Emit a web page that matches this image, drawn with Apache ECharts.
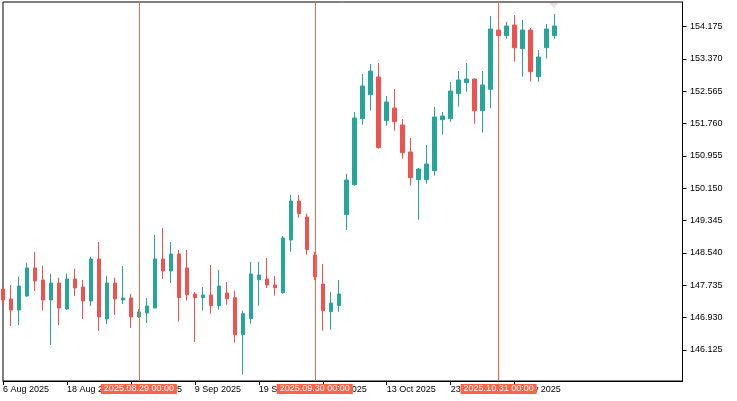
<!doctype html>
<html lang="en">

<head>
	<meta charset="UTF-8">
	<title>USDJPY Daily</title>
	<script src="https://cdnjs.cloudflare.com/ajax/libs/echarts/6.0.0/echarts.min.js"></script>
	<style>
		html, body { margin: 0; padding: 0; background: #fff; }
		#main { width: 737px; height: 401px; }
	</style>
</head>

<body>
	<div id="main"></div>
	<script type="text/javascript">
		// trading days, 6 Aug 2025 onwards (last 16 are empty slots of the chart shift)
		var dates = [
			'6 Aug 2025', '7 Aug 2025', '8 Aug 2025', '11 Aug 2025', '12 Aug 2025', '13 Aug 2025', '14 Aug 2025', '15 Aug 2025',
			'18 Aug 2025', '19 Aug 2025', '20 Aug 2025', '21 Aug 2025', '22 Aug 2025', '25 Aug 2025', '26 Aug 2025', '27 Aug 2025',
			'28 Aug 2025', '29 Aug 2025', '1 Sep 2025', '2 Sep 2025', '3 Sep 2025', '4 Sep 2025', '5 Sep 2025', '8 Sep 2025',
			'9 Sep 2025', '10 Sep 2025', '11 Sep 2025', '12 Sep 2025', '15 Sep 2025', '16 Sep 2025', '17 Sep 2025', '18 Sep 2025',
			'19 Sep 2025', '22 Sep 2025', '23 Sep 2025', '24 Sep 2025', '25 Sep 2025', '26 Sep 2025', '29 Sep 2025', '30 Sep 2025',
			'1 Oct 2025', '2 Oct 2025', '3 Oct 2025', '6 Oct 2025', '7 Oct 2025', '8 Oct 2025', '9 Oct 2025', '10 Oct 2025',
			'13 Oct 2025', '14 Oct 2025', '15 Oct 2025', '16 Oct 2025', '17 Oct 2025', '20 Oct 2025', '21 Oct 2025', '22 Oct 2025',
			'23 Oct 2025', '24 Oct 2025', '27 Oct 2025', '28 Oct 2025', '29 Oct 2025', '30 Oct 2025', '31 Oct 2025', '3 Nov 2025',
			'4 Nov 2025', '5 Nov 2025', '6 Nov 2025', '7 Nov 2025', '10 Nov 2025', '11 Nov 2025',
			'12 Nov 2025', '13 Nov 2025', '14 Nov 2025', '17 Nov 2025', '18 Nov 2025', '19 Nov 2025', '20 Nov 2025', '21 Nov 2025',
			'24 Nov 2025', '25 Nov 2025', '26 Nov 2025', '27 Nov 2025', '28 Nov 2025', '1 Dec 2025', '2 Dec 2025', '3 Dec 2025'
		];
		var barCount = 70;

		var opens = [
			147.644, 147.395, 147.121, 147.470, 148.167, 147.868, 147.370, 147.793, 147.146, 147.893,
			147.694, 147.345, 148.391, 146.897, 147.793, 147.370, 147.420, 146.947, 147.046, 147.171,
			148.391, 148.092, 148.515, 148.167, 147.520, 147.427, 147.494, 147.228, 147.544, 147.427,
			146.506, 146.905, 147.875, 147.893, 147.743, 147.552, 148.864, 149.835, 149.437, 148.490,
			147.768, 147.079, 147.228, 149.494, 150.241, 151.884, 152.481, 152.922, 151.834, 152.150,
			151.727, 151.055, 150.365, 150.365, 150.589, 151.859, 151.884, 152.506, 152.780, 152.872,
			152.083, 152.616, 154.092, 153.950, 154.217, 153.627, 154.092, 152.929, 153.651, 153.950
		];
		var closes = [
			147.370, 147.121, 147.718, 148.167, 147.843, 147.370, 147.793, 147.171, 147.893, 147.669,
			147.345, 148.391, 146.947, 147.793, 147.395, 147.420, 146.947, 147.071, 147.221, 148.391,
			148.092, 148.515, 147.427, 147.502, 147.427, 147.494, 147.228, 147.718, 147.402, 146.506,
			147.029, 148.017, 147.992, 147.743, 147.676, 148.913, 149.835, 149.519, 148.622, 147.942,
			147.104, 147.295, 147.520, 150.358, 151.901, 152.698, 153.071, 151.162, 152.300, 151.809,
			151.037, 150.415, 150.631, 150.756, 151.926, 151.951, 152.573, 152.847, 152.872, 152.083,
			152.723, 154.117, 153.950, 154.192, 153.651, 154.092, 153.054, 153.420, 154.117, 154.192
		];
		var lows = [
			147.250, 146.722, 146.747, 147.450, 147.594, 147.104, 146.250, 146.747, 147.121, 147.470,
			146.897, 147.221, 146.598, 146.772, 146.997, 147.270, 146.673, 146.922, 146.797, 147.171,
			147.893, 147.793, 146.830, 147.353, 146.324, 147.104, 147.029, 147.129, 147.253, 146.307,
			145.510, 146.780, 147.228, 147.669, 147.477, 147.527, 148.572, 149.419, 148.498, 147.868,
			146.606, 146.631, 147.079, 149.113, 150.216, 151.734, 152.083, 151.137, 151.709, 151.585,
			150.888, 150.216, 149.369, 150.266, 150.465, 151.486, 151.809, 152.183, 152.556, 151.759,
			151.535, 152.143, 153.890, 153.876, 153.303, 152.929, 152.805, 152.805, 153.378, 153.876
		];
		var highs = [
			147.720, 147.743, 147.950, 148.300, 148.572, 148.224, 148.025, 147.925, 148.025, 148.149,
			147.868, 148.448, 148.814, 147.975, 147.925, 148.217, 147.520, 147.146, 147.420, 148.988,
			149.163, 148.814, 148.615, 148.615, 147.570, 147.694, 148.241, 148.117, 147.818, 147.602,
			147.104, 148.316, 148.316, 148.416, 147.967, 148.963, 149.984, 149.984, 149.519, 148.565,
			148.266, 147.570, 147.868, 150.507, 152.050, 152.997, 153.246, 153.271, 152.449, 152.623,
			151.876, 151.403, 150.656, 151.229, 152.175, 152.050, 152.797, 153.071, 153.271, 152.880,
			153.071, 154.440, 154.167, 154.291, 154.465, 154.341, 154.142, 153.594, 154.241, 154.490
		];

		var priceTicks = [146.125, 146.930, 147.735, 148.540, 149.345, 150.150, 150.955, 151.760, 152.565, 153.370, 154.175];
		var markerDates = ['29 Aug 2025', '30 Sep 2025', '31 Oct 2025'];
		var markerLabels = ['2025.08.29 00:00', '2025.09.30 00:00', '2025.10.31 00:00'];

		var upColor = '#26a69a', downColor = '#ef5350', markColor = '#ff6347';
		var font = "'Liberation Sans', Arial, sans-serif";

		var candles = opens.map(function (o, i) {
			return [o, closes[i], lows[i], highs[i]];
		});

		function dateTick(index) {
			return index < barCount && index % 8 === 0;
		}

		var markLineStyle = { color: markColor, type: 'solid', width: 1, opacity: 1 };

		var myChart = echarts.init(document.getElementById('main'));

		var option = {
			animation: false,
			backgroundColor: '#fff',
			grid: {
				left: 2.5,
				right: 54.5,
				top: 2,
				bottom: 20,
				show: true,
				borderColor: '#000',
				borderWidth: 1
			},
			// chart-shift marker, top edge
			graphic: [{
				type: 'polygon',
				shape: { points: [[549, 3], [559, 3], [554, 8]] },
				style: { fill: '#e4e4e4' },
				silent: true
			}],
			xAxis: {
				type: 'category',
				data: dates,
				boundaryGap: false,
				axisLine: { lineStyle: { color: '#000', width: 1 } },
				axisTick: { interval: dateTick, length: 4, lineStyle: { color: '#000' } },
				axisLabel: {
					interval: dateTick,
					align: 'left',
					margin: 4,
					color: '#000',
					fontSize: 9,
					fontFamily: font
				},
				splitLine: { show: false }
			},
			yAxis: {
				type: 'value',
				position: 'right',
				min: 145.353,
				max: 154.789,
				axisLine: { show: true, lineStyle: { color: '#000', width: 1 } },
				axisTick: { show: true, length: 4, customValues: priceTicks, lineStyle: { color: '#000' } },
				axisLabel: {
					customValues: priceTicks,
					formatter: function (v) { return v.toFixed(3); },
					margin: 7.5,
					color: '#000',
					fontSize: 9,
					fontFamily: font
				},
				splitLine: { show: false }
			},
			series: [{
				type: 'candlestick',
				data: candles,
				barWidth: 4,
				itemStyle: {
					color: upColor,
					color0: downColor,
					borderColor: upColor,
					borderColor0: downColor,
					borderWidth: 1
				},
				markLine: {
					silent: true,
					symbol: ['none', 'none'],
					itemStyle: { color: markColor },
					lineStyle: markLineStyle,
					emphasis: { disabled: true },
					label: {
						position: 'start',
						distance: 3,
						formatter: function (p) { return markerLabels[p.dataIndex]; },
						backgroundColor: markColor,
						color: '#fff',
						fontSize: 9,
						lineHeight: 10,
						padding: [0, 3],
						fontFamily: font
					},
					data: markerDates.map(function (d) {
						return { xAxis: d, lineStyle: markLineStyle, itemStyle: { color: markColor } };
					})
				}
			}]
		};
		myChart.setOption(option);
	</script>
</body>

</html>
